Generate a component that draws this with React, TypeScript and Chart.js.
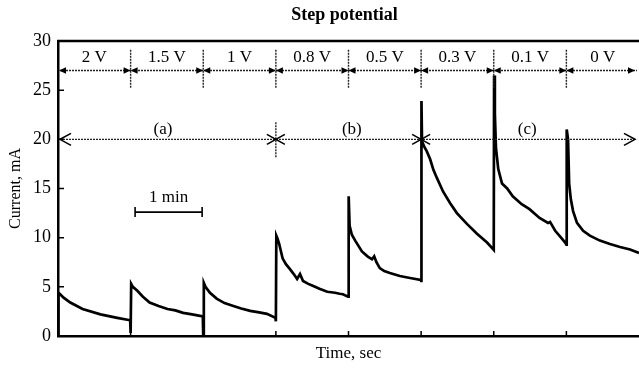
import React, { useEffect, useRef } from "react";
import { Chart, registerables } from "chart.js";

Chart.register(...registerables);

// ---- data ----
const stepLabels = ["2 V", "1.5 V", "1 V", "0.8 V", "0.5 V", "0.3 V", "0.1 V", "0 V"];
const stepBounds = [0, 65, 130, 195, 260, 325, 390, 455, 520];
const regionLabels = ["(a)", "(b)", "(c)"];
const regionBounds = [0, 195, 325, 520];
const regionLabelPos = [94, 263, 420];
const yTickValues = [0, 5, 10, 15, 20, 25, 30];

const timeSec = [
  0, 0.4, 1.5, 5, 11, 22, 38, 53, 64.6,
  65, 65.5, 67, 71, 76, 82, 90, 98, 105, 112, 120, 129.6,
  130, 130.5, 132, 136, 142, 149, 157, 164, 172, 180, 187, 194.6,
  195, 195.4, 196.5, 198, 201, 204, 207.6, 211, 214, 216.6, 219.3, 224, 228, 234, 241, 248, 252, 255, 259.6,
  260, 260.3, 261, 263, 266, 272, 277, 281, 283, 285, 288, 292, 297, 306, 315, 324.6,
  325, 325.3, 325.8, 328, 330, 333, 336, 339, 344.6, 351, 357, 366, 375, 384, 389.6,
  390, 390.3, 391, 392, 394, 397.4, 402, 407, 415, 422, 431, 438.6, 440.4, 445, 451, 454.6,
  455, 455.3, 456.5, 457.5, 459, 461, 464.5, 470, 476, 485, 494, 503, 512, 520,
];
const currentMA = [
  0, 4.4, 4.3, 3.9, 3.4, 2.75, 2.2, 1.85, 1.6,
  0.3, 5.3, 5.0, 4.6, 4.0, 3.4, 3.05, 2.75, 2.6, 2.35, 2.2, 2.0,
  0, 5.4, 5.0, 4.4, 3.8, 3.35, 3.05, 2.8, 2.55, 2.4, 2.25, 1.85,
  1.5, 10.2, 9.9, 9.35, 7.9, 7.3, 6.8, 6.3, 5.8, 6.3, 5.6, 5.3, 5.1, 4.8, 4.5, 4.4, 4.3, 4.25, 4.0,
  4.0, 14.2, 11.2, 10.3, 9.7, 8.6, 8.1, 7.8, 8.1, 7.5, 6.9, 6.6, 6.4, 6.1, 5.9, 5.7,
  5.6, 23.9, 19.8, 19.2, 18.8, 18, 16.9, 16.1, 14.7, 13.5, 12.5, 11.4, 10.4, 9.5, 8.8,
  8.75, 26.5, 22.6, 19.1, 17, 15.5, 15, 14.2, 13.4, 12.9, 12, 11.5, 11.6, 10.7, 9.9, 9.4,
  9.3, 21, 20, 15.5, 13.9, 12.7, 11.5, 10.7, 10.2, 9.7, 9.35, 9.05, 8.8, 8.45,
];

// annotation rows (in data units)
const stepArrowY = 27;
const stepLabelY = 28.3;
const dividerTop = 29.1;
const dividerBottom = 25.2;
const regionArrowY = 20;
const regionLabelY = 21.2;
const scaleBarStart = 69;
const scaleBarEnd = 129;
const scaleBarY = 12.6;
const scaleBarLabel = "1 min";

const SERIF = "'Liberation Serif', 'Times New Roman', serif";

const annotationPlugin = {
  id: "stepAnnotations",
  afterDatasetsDraw(chart: any) {
    const { ctx, chartArea } = chart;
    const xs = chart.scales.x;
    const ys = chart.scales.y;
    const X = (v: number) => xs.getPixelForValue(v);
    const Y = (v: number) => ys.getPixelForValue(v);
    ctx.save();

    // top border
    ctx.strokeStyle = "#000";
    ctx.lineWidth = 2.5;
    ctx.setLineDash([]);
    ctx.beginPath();
    ctx.moveTo(chartArea.left - 1, chartArea.top);
    ctx.lineTo(chartArea.right, chartArea.top);
    ctx.stroke();

    // inner ticks
    ctx.lineWidth = 1.5;
    ctx.beginPath();
    yTickValues.forEach((v) => {
      if (v === 0 || v === 30) return;
      ctx.moveTo(chartArea.left, Y(v));
      ctx.lineTo(chartArea.left + 6, Y(v));
    });
    stepBounds.slice(1, -1).forEach((t) => {
      ctx.moveTo(X(t), chartArea.bottom);
      ctx.lineTo(X(t), chartArea.bottom - 5);
    });
    ctx.stroke();

    // title
    ctx.fillStyle = "#000";
    ctx.font = `bold 18px ${SERIF}`;
    ctx.textAlign = "center";
    ctx.textBaseline = "middle";
    ctx.fillText("Step potential", (chartArea.left + chartArea.right) / 2 - 4, chartArea.top - 26);

    const filledArrow = (px: number, py: number, d: number) => {
      ctx.beginPath();
      ctx.moveTo(px, py);
      ctx.lineTo(px - d * 7, py - 3.2);
      ctx.lineTo(px - d * 7, py + 3.2);
      ctx.closePath();
      ctx.fill();
    };
    const openArrow = (px: number, py: number, d: number) => {
      ctx.setLineDash([]);
      ctx.lineWidth = 1.6;
      ctx.beginPath();
      ctx.moveTo(px - d * 11, py - 6);
      ctx.lineTo(px, py);
      ctx.lineTo(px - d * 11, py + 6);
      ctx.stroke();
    };

    // step row
    ctx.strokeStyle = "#222";
    ctx.lineWidth = 1.4;
    ctx.setLineDash([2, 1]);
    ctx.beginPath();
    ctx.moveTo(X(stepBounds[0]) + 2, Y(stepArrowY));
    ctx.lineTo(X(stepBounds[stepBounds.length - 1]) - 2, Y(stepArrowY));
    ctx.stroke();
    ctx.beginPath();
    stepBounds.slice(1, -1).forEach((t) => {
      ctx.moveTo(X(t), Y(dividerTop));
      ctx.lineTo(X(t), Y(dividerBottom));
    });
    ctx.stroke();
    ctx.setLineDash([]);
    ctx.fillStyle = "#000";
    for (let i = 0; i < stepLabels.length; i++) {
      const a = X(stepBounds[i]);
      const b = X(stepBounds[i + 1]);
      filledArrow(i === 0 ? a + 1 : a, Y(stepArrowY), -1);
      filledArrow(i === stepLabels.length - 1 ? b - 4 : b, Y(stepArrowY), 1);
    }
    ctx.font = `17px ${SERIF}`;
    ctx.textBaseline = "middle";
    stepLabels.forEach((lab, i) => {
      ctx.fillText(lab, (X(stepBounds[i]) + X(stepBounds[i + 1])) / 2, Y(stepLabelY));
    });

    // region row
    ctx.strokeStyle = "#222";
    ctx.lineWidth = 1.4;
    ctx.setLineDash([2, 1]);
    ctx.beginPath();
    ctx.moveTo(X(regionBounds[0]) + 2, Y(regionArrowY));
    ctx.lineTo(X(regionBounds[regionBounds.length - 1]) - 4, Y(regionArrowY));
    ctx.stroke();
    ctx.strokeStyle = "#000";
    openArrow(X(regionBounds[0]) + 2, Y(regionArrowY), -1);
    openArrow(X(regionBounds[regionBounds.length - 1]) - 4, Y(regionArrowY), 1);
    regionBounds.slice(1, -1).forEach((t) => {
      const cx = X(t);
      const cy = Y(regionArrowY);
      ctx.setLineDash([2, 1]);
      ctx.lineWidth = 1.2;
      ctx.beginPath();
      ctx.moveTo(cx, cy - 17);
      ctx.lineTo(cx, cy + 19);
      ctx.stroke();
      ctx.setLineDash([]);
      ctx.lineWidth = 1.6;
      ctx.beginPath();
      ctx.moveTo(cx - 9, cy - 5);
      ctx.lineTo(cx + 9, cy + 5);
      ctx.moveTo(cx - 9, cy + 5);
      ctx.lineTo(cx + 9, cy - 5);
      ctx.stroke();
    });
    ctx.textBaseline = "alphabetic";
    regionLabels.forEach((lab, i) => {
      ctx.fillText(lab, X(regionLabelPos[i]), Y(regionLabelY) + 6);
    });

    // scale bar
    ctx.setLineDash([]);
    ctx.lineWidth = 1.6;
    const bx0 = X(scaleBarStart);
    const bx1 = X(scaleBarEnd);
    const by = Y(scaleBarY);
    ctx.beginPath();
    ctx.moveTo(bx0, by);
    ctx.lineTo(bx1, by);
    ctx.moveTo(bx0, by - 5);
    ctx.lineTo(bx0, by + 5);
    ctx.moveTo(bx1, by - 5);
    ctx.lineTo(bx1, by + 5);
    ctx.stroke();
    ctx.textBaseline = "alphabetic";
    ctx.fillText(scaleBarLabel, (bx0 + bx1) / 2, by - 10);

    ctx.restore();
  },
};

export default function App() {
  const ref = useRef<HTMLCanvasElement | null>(null);
  useEffect(() => {
    if (!ref.current) return;
    const points = timeSec.map((t, i) => ({ x: t, y: currentMA[i] }));
    const chart = new Chart(ref.current, {
      type: "line",
      data: {
        datasets: [
          {
            data: points,
            borderColor: "#000",
            borderWidth: 2.7,
            pointRadius: 0,
            tension: 0,
            fill: false,
          },
        ],
      },
      options: {
        animation: false,
        responsive: false,
        events: [],
        layout: { padding: { top: 41, left: 0, right: 0, bottom: 0 } },
        plugins: { legend: { display: false }, tooltip: { enabled: false }, title: { display: false } },
        scales: {
          x: {
            type: "linear",
            min: 0,
            max: 520,
            grid: { display: false, drawTicks: false },
            border: { display: true, color: "#000", width: 2.5 },
            ticks: { display: false },
            title: {
              display: true,
              text: "Time, sec",
              color: "#000",
              font: { family: SERIF, size: 17 },
              padding: { top: 0, bottom: 5 },
            },
            afterFit: (s: any) => {
              s.height = 33;
            },
          },
          y: {
            min: 0,
            max: 30,
            grid: { display: false, drawTicks: false },
            border: { display: true, color: "#000", width: 2.5 },
            ticks: {
              stepSize: 5,
              color: "#000",
              padding: 7,
              font: { family: SERIF, size: 18 },
            },
            title: {
              display: true,
              text: "Current, mA",
              color: "#000",
              font: { family: SERIF, size: 16 },
              padding: { top: 6, bottom: 0 },
            },
            afterFit: (s: any) => {
              s.width = 58;
            },
          },
        },
      },
      plugins: [annotationPlugin],
    });
    return () => chart.destroy();
  }, []);
  return (
    <div style={{ position: "absolute", left: 0, top: 0, width: 639, height: 369, background: "#fff" }}>
      <canvas ref={ref} width={639} height={369} style={{ display: "block" }} />
    </div>
  );
}
